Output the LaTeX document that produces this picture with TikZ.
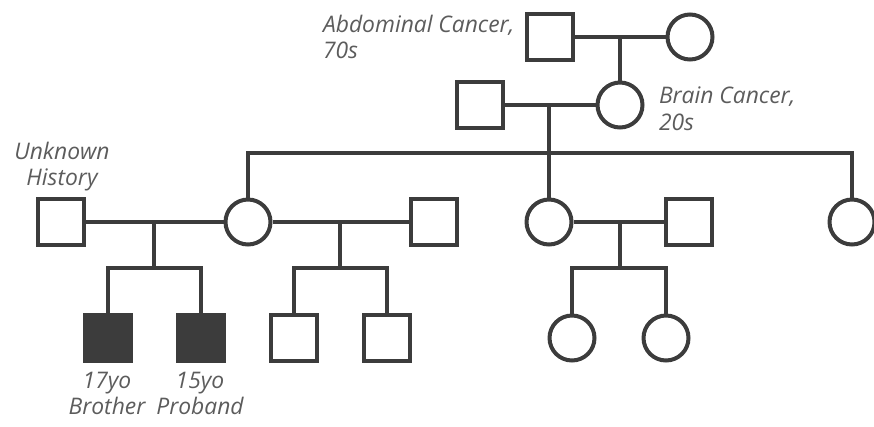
\documentclass[tikz,border=0pt]{standalone}
\usepackage{fontspec}
\setsansfont{Open Sans}
\usepackage{tikz,xcolor}
\definecolor{pedgray}{HTML}{3C3C3C}
\definecolor{notegray}{HTML}{5C5C5C}

\begin{document}
\begin{tikzpicture}[x=0.02cm,y=-0.02cm,line width=0.08cm,draw=pedgray]
    \useasboundingbox (0,0) rectangle (874,426);
    \tikzstyle{every node}=[draw=pedgray,line width=0.08cm,minimum size=0.92cm,inner sep=0pt]
    \tikzstyle{male}=[rectangle]
    \tikzstyle{female}=[circle,minimum size=0.9cm]
    \tikzstyle{affected}=[fill=pedgray]

    % grandparents
    \node[male](m1) at (550,37){};
    \node[female](f1) at (690,37){};
    % parents generation
    \node[male](m2) at (480,105){};
    \node[female](f2) at (620,105){};
    % children of m2, f2
    \node[male](m3) at (61,222){};
    \node[female](f3) at (248,222){};
    \node[male](m4) at (434,222){};
    \node[female](f4) at (549,222){};
    \node[male](m5) at (689,222){};
    \node[female](f5) at (852,222){};
    % last row
    \node[male,affected](k1) at (108,338){};
    \node[male,affected](k2) at (201,338){};
    \node[male](k3) at (294,338){};
    \node[male](k4) at (387,338){};
    \node[female](k5) at (572,338){};
    \node[female](k6) at (666,338){};

    \coordinate (c1) at (620,37);
    \coordinate (c2) at (549,105);
    \coordinate (t0) at (549,153);
    \coordinate (t1) at (248,153);
    \coordinate (t2) at (852,153);
    \coordinate (c3) at (154,222);
    \coordinate (q3) at (154,268);
    \coordinate (c4) at (340,222);
    \coordinate (q4) at (340,268);
    \coordinate (c5) at (620,222);
    \coordinate (q5) at (620,268);

    % couples
    \draw(m1)--(f1);
    \draw(m2)--(f2);
    \draw(m3)--(f3);
    \draw(f3)--(m4);
    \draw(f4)--(m5);

    % lines of descent
    \draw(c1)--(f2);
    \draw(c2)--(t0);
    \draw(f3)--(t1)--(t2)--(f5);
    \draw(t0)--(f4);
    \draw(c3)--(q3);
    \draw(k1)|-(q3)-|(k2);
    \draw(c4)--(q4);
    \draw(k3)|-(q4)-|(k4);
    \draw(c5)--(q5);
    \draw(k5)|-(q5)-|(k6);

  \tikzstyle{every node}=[text=notegray,font=\sffamily\itshape\fontsize{13}{15}\selectfont,inner sep=0pt]

    \node[anchor=north west,align=left](n1) at (321,13){Abdominal Cancer,\\70s};
    \node[anchor=north west,align=left](n2) at (657,85){Brain Cancer,\\20s};
    \node[anchor=north,align=center](n3) at (62,140){Unknown\\History};
    \node[anchor=north,align=center](n4) at (107,370){17yo\\Brother};
    \node[anchor=north,align=center](n5) at (200,370){15yo\\Proband};

\end{tikzpicture}
\end{document}
